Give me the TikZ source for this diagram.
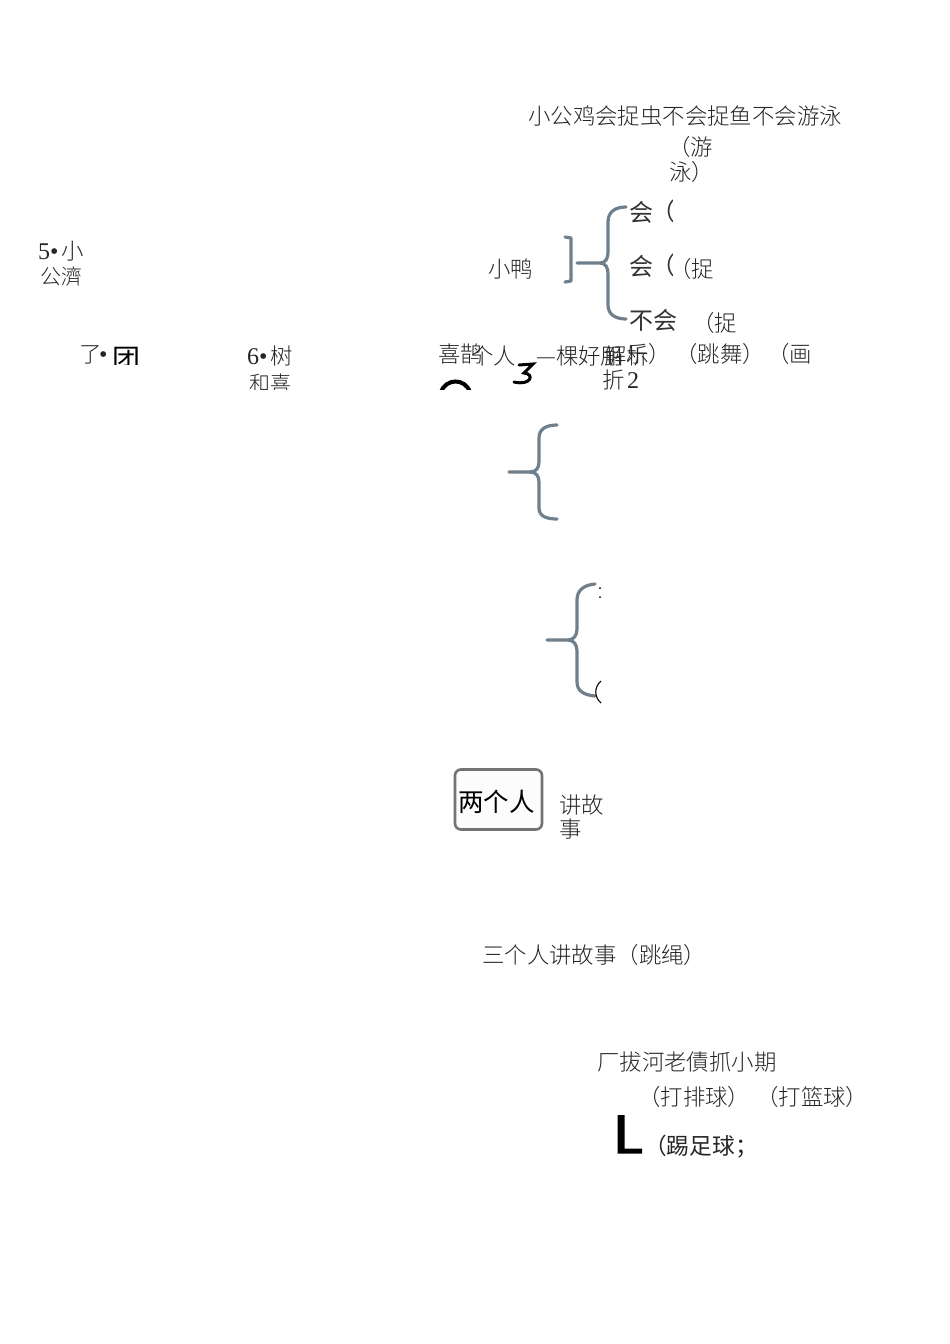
\documentclass[tikz,border=0pt]{standalone}
\usepackage{fontspec}
\setmainfont{Noto Sans CJK SC}[UprightFont=* Light]
\newfontfamily\regf{Noto Sans CJK SC}
\newfontfamily\latinf{Liberation Serif}
\definecolor{bracecol}{HTML}{6F7F8B}
\tikzset{
 lbl/.style={inner sep=0pt,anchor=base west,text=black!85,font=\fontsize{22.4}{22.4}\selectfont},
 small/.style={lbl,font=\fontsize{21}{21}\selectfont},
 num/.style={lbl,font=\latinf\fontsize{24}{24}\selectfont},
 pic/.style={lbl,text=black!80,font=\regf\fontsize{24}{24}\selectfont},
 brace/.style={draw=bracecol,line width=3.2pt,line cap=round,line join=round},
}
\begin{document}
\begin{tikzpicture}[x=1pt,y=-1pt]
\useasboundingbox (0,0) rectangle (950,1344);
\fill[white] (0,0) rectangle (950,1344);
\node[lbl] (t1) at (528,124) {小公鸡会捉虫不会捉鱼不会游泳};
\node[lbl] (t2) at (668,155) {（游};
\node[lbl] (t3) at (669,180) {泳）};
\node[lbl] (t4) at (488,277) {小鸭};
\node[pic] (a1) at (629,221) {会};
\node[pic] (a2) at (629,275) {会};
\node[pic] (a3) at (629,329) {不会};
\node[lbl] (a4) at (669,277) {（捉};
\node[lbl] (a5) at (692,331) {（捉};
\begin{scope}\clip (660,195) rectangle (672,285);
\node[pic] (a6) at (651,220) {（};
\node[pic] (a7) at (651,274) {（};
\end{scope}
\draw[brace] (565,237) -- (571,238) -- (571,281) -- (565,282);
\draw[brace] (577,263) -- (600,263) .. controls (606,263) and (608,258) .. (608,252)
 -- (608,222) .. controls (608,212) and (615,207) .. (626,207);
\draw[brace] (600,263) .. controls (606,263) and (608,268) .. (608,274)
 -- (608,305) .. controls (608,314) and (615,319) .. (626,319);
\node[num] (n5) at (38,259) {5•};
\node[lbl] (n5b) at (61,259) {小};
\node[small] (g5) at (40,284) {公濟};
\begin{scope}\clip (70,335) rectangle (150,364.5);
\node[lbl] (n7) at (79,362) {了};
\node[num] (dot7) at (99,362) {•};
\node[lbl,font=\regf\fontsize{28}{28}\selectfont,text=black] (tu) at (112,369) {团};
\end{scope}
\node[num] (n6) at (247,364) {6•};
\node[lbl] (n6b) at (270,364) {树};
\begin{scope}\clip (240,370) rectangle (300,389);
\node[small] (g6) at (249,391) {和喜};
\end{scope}
\node[lbl] (x1) at (438,362) {喜鹊};
\node[lbl] (x2) at (471,364) {个人};
\node[lbl] (x3) at (536,364) {—棵好朋};
\node[lbl] (x4) at (604,364) {解析};
\node[lbl] (x5) at (626,362) {乐）};
\node[lbl] (x5b) at (675,362) {（跳舞）};
\node[lbl] (x5c) at (767,362) {（画};
\node[lbl] (x6) at (602,388) {折};
\node[num] (x7) at (627,388) {2};
\begin{scope}\clip (430,370) rectangle (480,389);
\draw[line width=4pt,black] (441,392) .. controls (446,378) and (465,378) .. (470,392);
\end{scope}
\draw[line width=3pt,black,line cap=round] (519,365) -- (533,364) -- (524,373) .. controls (535,374) and (531,386) .. (514,382);
\draw[brace] (509,472) -- (530,472) .. controls (536,472) and (539,468) .. (539,462)
 -- (539,438) .. controls (539,429) and (546,425) .. (557,425);
\draw[brace] (530,472) .. controls (536,472) and (539,476) .. (539,482)
 -- (539,508) .. controls (539,516) and (546,519) .. (557,519);
\draw[brace] (547,640) -- (568,640) .. controls (574,640) and (577,635) .. (577,629)
 -- (577,600) .. controls (577,590) and (584,585) .. (595,584);
\draw[brace] (568,640) .. controls (574,640) and (577,645) .. (577,651)
 -- (577,682) .. controls (577,691) and (584,695) .. (595,696);
\fill (600,588) circle (1pt) (600,597) circle (1pt);
\draw[line width=1.1pt,black] (601,681) .. controls (594,687) and (594,697) .. (601,703);
\node[draw=black!55,line width=2.6pt,rounded corners=6pt,minimum width=87pt,minimum height=60pt,inner sep=0pt,fill=black!1] (box) at (498.5,799.5) {};
\node[lbl,text=black,font=\regf\fontsize{25.5}{25.5}\selectfont] (boxt) at (458,811) {两个人};
\node[lbl] (s1) at (559,813) {讲故};
\node[lbl] (s2) at (559,837) {事};
\node[lbl] (s3) at (482,963) {三个人讲故事（跳绳）};
\node[lbl] (b1) at (597,1070) {厂拔河老債抓小期};
\node[lbl] (b2) at (638,1105) {（打排球）};
\node[lbl] (b2b) at (756,1105) {（打篮球）};
\node[lbl,font=\regf\fontsize{22.7}{22.7}\selectfont] (b3) at (644,1154) {（踢足球；};
\fill[black] (617.5,1115) -- (624.5,1115) -- (624.5,1148.5) -- (642,1148.5) -- (642,1153.5) -- (617.5,1153.5) -- cycle;
\end{tikzpicture}
\end{document}
